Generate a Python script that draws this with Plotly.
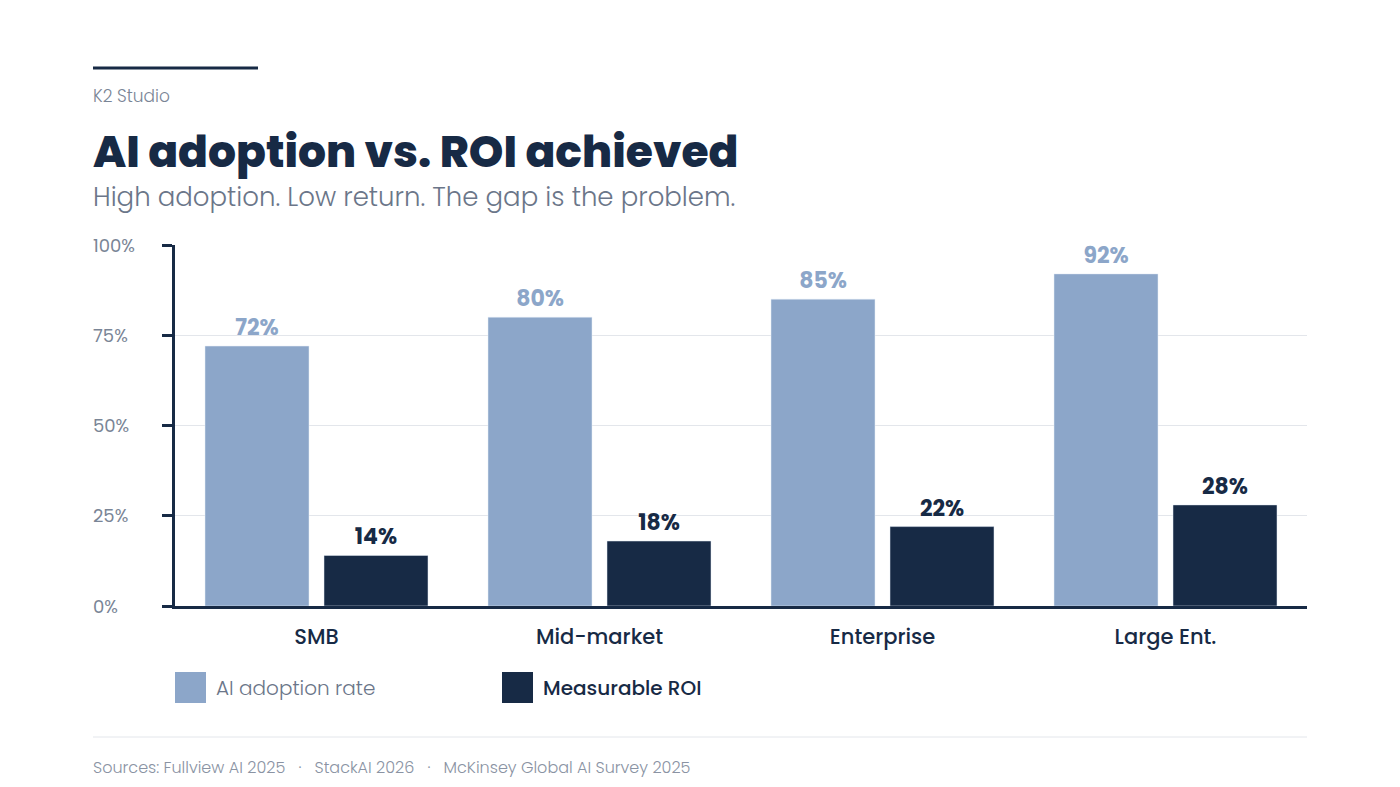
import plotly.graph_objects as go

# data
segments = ["SMB", "Mid-market", "Enterprise", "Large Ent."]
adoption_rate = [72, 80, 85, 92]
measurable_roi = [14, 18, 22, 28]
y_ticks = [0, 25, 50, 75, 100]
y_tick_labels = ["0%", "25%", "50%", "75%", "100%"]

LIGHT = "#8CA6C9"
NAVY = "#172A45"
GRAY = "#6B7689"
FONT = "Poppins, Inter, Lato, sans-serif"

# plot area in pixels (page is offset 8px by the body margin)
PW, PH = 1132, 361
TEXT_X = -84 / PW

fig = go.Figure()

fig.add_trace(
    go.Bar(
        name="AI adoption rate",
        x=segments,
        y=adoption_rate,
        marker_color=LIGHT,
        text=[f"{v}%" for v in adoption_rate],
        textposition="outside",
        textfont=dict(family=FONT, size=22, color=LIGHT, weight=700),
        cliponaxis=False,
    )
)
fig.add_trace(
    go.Bar(
        name="Measurable ROI",
        x=segments,
        y=measurable_roi,
        marker_color=NAVY,
        text=[f"{v}%" for v in measurable_roi],
        textposition="outside",
        textfont=dict(family=FONT, size=22, color=NAVY, weight=700),
        cliponaxis=False,
    )
)

fig.update_layout(
    width=1400,
    height=787,
    paper_bgcolor="white",
    plot_bgcolor="white",
    barmode="group",
    bargap=0.159,
    bargroupgap=0.126,
    showlegend=False,
    margin=dict(l=167, r=101, t=237, b=189),
    font=dict(family=FONT, color=GRAY),
)

fig.update_yaxes(
    range=[0, 100],
    tickvals=y_ticks,
    showticklabels=False,
    showgrid=True,
    gridcolor="#E3E6EB",
    gridwidth=1,
    showline=True,
    linecolor=NAVY,
    linewidth=2.5,
    ticks="outside",
    ticklen=10,
    tickwidth=2.5,
    tickcolor=NAVY,
    zeroline=False,
)
fig.update_xaxes(
    showline=True,
    linecolor=NAVY,
    linewidth=3,
    ticks="",
    tickfont=dict(family=FONT, size=21, color=NAVY, weight=500),
    ticklabelstandoff=10,
)

# left-aligned y tick labels
for v, lab in zip(y_ticks, y_tick_labels):
    fig.add_annotation(
        text=lab, xref="paper", yref="y",
        x=TEXT_X, y=v, xanchor="left", yanchor="middle", showarrow=False,
        font=dict(family=FONT, size=18, color="#7A8596"),
    )

# header decoration
fig.add_shape(
    type="line", xref="paper", yref="paper",
    x0=-82 / PW, x1=83 / PW, y0=1 + 177 / PH, y1=1 + 177 / PH,
    line=dict(color=NAVY, width=3),
)
# footer divider
fig.add_shape(
    type="line", xref="paper", yref="paper",
    x0=-82 / PW, x1=1, y0=-131 / PH, y1=-131 / PH,
    line=dict(color="#E3E6EB", width=1),
)

texts = [
    ("K2 Studio", 96, 17, "#7A8596", 300),
    ("AI adoption vs. ROI achieved", 151, 44, NAVY, 800),
    ("High adoption. Low return. The gap is the problem.", 197, 26, GRAY, 300),
    ("Sources: Fullview AI 2025   ·   StackAI 2026   ·   McKinsey Global AI Survey 2025", 767, 16, "#8A93A3", 300),
]
for txt, ypix, size, color, weight in texts:
    fig.add_annotation(
        text=txt, xref="paper", yref="paper",
        x=TEXT_X, y=(606 - ypix) / PH,
        xanchor="left", yanchor="middle", showarrow=False,
        font=dict(family=FONT, size=size, color=color, weight=weight),
    )

# legend swatches
legend_items = [
    ("AI adoption rate", LIGHT, GRAY, 175, 300),
    ("Measurable ROI", NAVY, NAVY, 502, 500),
]
for label, swatch, tcolor, xpix, weight in legend_items:
    x0 = (xpix - 175) / PW
    fig.add_shape(
        type="rect", xref="paper", yref="paper",
        x0=x0, x1=x0 + 31 / PW,
        y0=(606 - 703) / PH, y1=(606 - 672) / PH,
        fillcolor=swatch, line=dict(width=0),
    )
    fig.add_annotation(
        text=label, xref="paper", yref="paper",
        x=x0 + 39 / PW, y=(606 - 688) / PH,
        xanchor="left", yanchor="middle", showarrow=False,
        font=dict(family=FONT, size=20, color=tcolor, weight=weight),
    )

fig.write_html("out.html")
